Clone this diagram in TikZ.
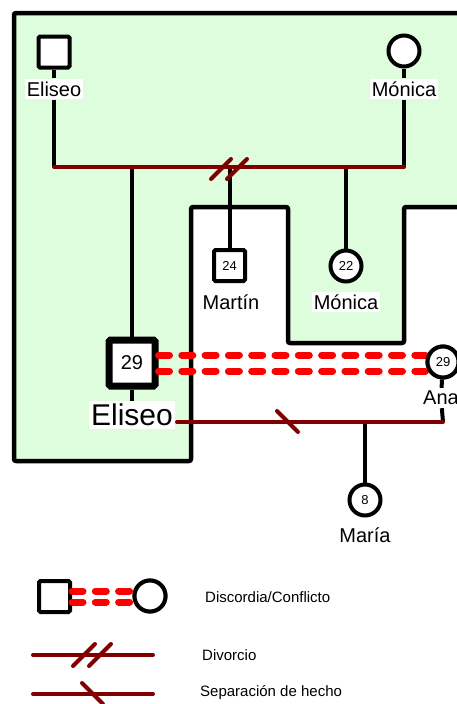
\documentclass[tikz,border=0pt]{standalone}
\usepackage{fontspec}
\setmainfont{Liberation Sans}
\definecolor{gbg}{RGB}{221,253,221}
\definecolor{mar}{RGB}{128,0,0}
\definecolor{conf}{RGB}{255,0,0}
\begin{document}
\begin{tikzpicture}[x=1pt,y=-1pt,
  male/.style={draw, line width=4pt, fill=white, minimum size=31pt, inner sep=0pt, rounded corners=1.5pt, font=\fontsize{13}{15}\selectfont},
  bigmale/.style={male, line width=7pt, minimum size=46pt, font=\fontsize{20}{24}\selectfont},
  female/.style={circle, draw, line width=4pt, fill=white, minimum size=31pt, inner sep=0pt, font=\fontsize{13}{15}\selectfont},
  lbl/.style={fill=white, inner xsep=2pt, inner ysep=3pt, font=\fontsize{20}{24}\selectfont},
  biglbl/.style={lbl, font=\fontsize{30}{34}\selectfont},
  leg/.style={anchor=west, inner sep=0pt, font=\fontsize{15}{18}\selectfont},
  conn/.style={line width=4pt},
  marr/.style={line width=4pt, mar, line cap=round},
  confl/.style={conf, line width=7pt, line cap=round, dash pattern=on 11pt off 12.3pt},
  region/.style={line width=4.5pt, rounded corners=2pt, line join=round}
]
\useasboundingbox (0,0) rectangle (457,704);
\begin{scope}
\clip (0,0) rectangle (457,704);
\fill[gbg] (470,13) -- (14,13) -- (14,461) -- (191,461) -- (191,207) -- (288,207) -- (288,343) -- (404,343) -- (404,207) -- (470,207) -- cycle;
\draw[region] (470,13) -- (14,13) -- (14,461) -- (191,461) -- (191,207) -- (288,207) -- (288,343) -- (404,343) -- (404,207) -- (470,207);
\end{scope}

% parents
\node[male] (e1) at (54,52) {};
\node[lbl] (e1l) at (54,89) {Eliseo};
\node[female] (m1) at (404,51) {};
\node[lbl] (m1l) at (404,89) {Mónica};
\coordinate (mL) at (54,167);
\coordinate (mR) at (404,167);

% children
\node[bigmale] (e2) at (132,363) {29};
\node[biglbl] (e2l) at (132,415) {Eliseo};
\node[male] (ma) at (229.5,265.5) {24};
\node[lbl, fill=none] (mal) at (231,302) {Martín};
\node[female] (m2) at (346,266) {22};
\node[lbl] (m2l) at (346,302) {Mónica};
\node[female] (ana) at (443,362) {29};
\node[lbl, fill=none] (anal) at (441,398) {Ana};
\node[female] (mr) at (365,500) {8};
\node[lbl, fill=none] (mrl) at (365,535) {María};
\coordinate (sL) at (177,422);
\coordinate (sR) at (443,422);

% connectors parents
\draw[conn] (e1) -- (e1l);
\draw[conn] (e1l) -- (mL);
\draw[conn] (m1) -- (m1l);
\draw[conn] (m1l) -- (mR);
\draw[conn] (e2 |- mL) -- (e2);
\draw[conn] (ma |- mL) -- (ma);
\draw[conn] (m2 |- mL) -- (m2);
\draw[marr] (mL) -- (mR);
\draw[marr] (211,179) -- (231,159);
\draw[marr] (227,179) -- (247,159);

% children connectors
\draw[conn] (e2) -- (e2l);
\draw[conn] (ana) -- (anal);
\draw[conn] (anal) -- (sR);
\draw[conn] (mr |- sL) -- (mr);
\draw[marr] (sL) -- (sR);
\draw[marr] (277,411) -- (298,432);

% conflict
\draw[confl] (e2.east |- 0,355) -- (ana.west |- 0,355);
\draw[confl] (e2.east |- 0,371) -- (ana.west |- 0,371);
\node[female] at (ana) {29};

% legend
\node[male] (lq) at (54.5,596.5) {};
\node[female] (lc) at (150,596) {};
\draw[confl] (lq.east |- 0,591) -- (lc.west |- 0,591);
\draw[confl] (lq.east |- 0,602) -- (lc.west |- 0,602);
\node[female] at (lc) {};
\node[leg] (t1) at (205,597) {Discordia/Conflicto};

\coordinate (dA) at (33,655);
\coordinate (dB) at (153,655);
\draw[marr] (dA) -- (dB);
\draw[marr] (73,666) -- (95,644);
\draw[marr] (89,666) -- (111,644);
\node[leg] (t2) at (202,655) {Divorcio};

\coordinate (sA) at (33,694);
\coordinate (sB) at (153,694);
\draw[marr] (sA) -- (sB);
\draw[marr] (82,683) -- (103,704);
\node[leg] (t3) at (200,693) {Separación de hecho};
\end{tikzpicture}
\end{document}
